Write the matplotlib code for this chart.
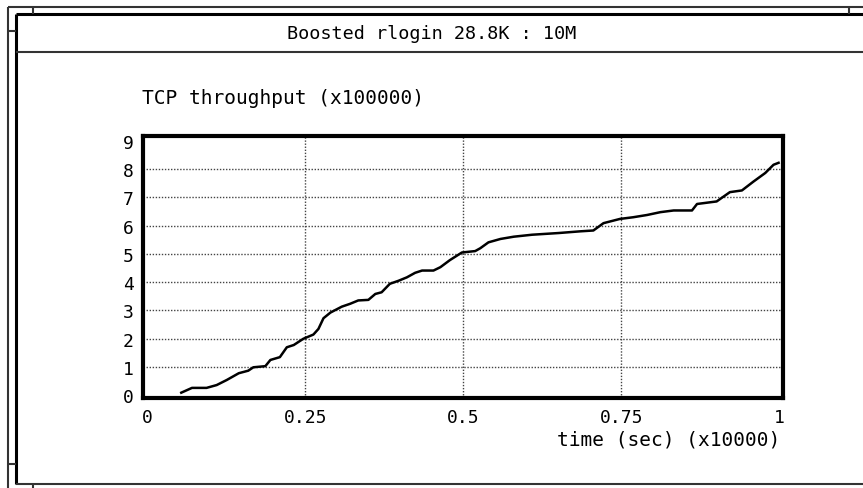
# Boosted rlogin 28.8K : 10M -- rendimiento TCP vs tiempo
import matplotlib
matplotlib.use("Agg")
import matplotlib.pyplot as plt
from matplotlib.lines import Line2D

# datos
tiempo = [0.054, 0.071, 0.094, 0.110, 0.126, 0.145, 0.160, 0.168, 0.187, 0.195,
          0.210, 0.221, 0.232, 0.247, 0.263, 0.271, 0.279, 0.290, 0.308, 0.321,
          0.334, 0.350, 0.361, 0.371, 0.384, 0.398, 0.411, 0.424, 0.435, 0.453,
          0.464, 0.479, 0.498, 0.519, 0.527, 0.540, 0.559, 0.580, 0.609, 0.651,
          0.685, 0.706, 0.722, 0.748, 0.769, 0.791, 0.812, 0.833, 0.862, 0.870,
          0.901, 0.922, 0.941, 0.959, 0.978, 0.991, 0.999]
throughput = [0.08, 0.25, 0.25, 0.35, 0.53, 0.77, 0.86, 0.98, 1.02, 1.24,
              1.34, 1.69, 1.77, 1.99, 2.14, 2.34, 2.72, 2.92, 3.13, 3.23,
              3.35, 3.37, 3.58, 3.64, 3.94, 4.05, 4.17, 4.33, 4.41, 4.41,
              4.53, 4.78, 5.05, 5.10, 5.20, 5.41, 5.53, 5.61, 5.68, 5.74,
              5.80, 5.83, 6.09, 6.24, 6.30, 6.38, 6.48, 6.54, 6.54, 6.77,
              6.86, 7.19, 7.25, 7.56, 7.87, 8.16, 8.23]

x_ticks = [0, 0.25, 0.5, 0.75, 1]
x_labels = ["0", "0.25", "0.5", "0.75", "1"]
y_ticks = list(range(10))
y_labels = [str(v) for v in y_ticks]

titulo = "Boosted rlogin 28.8K : 10M"
etiqueta_y = "TCP throughput (x100000)"
etiqueta_x = "time (sec) (x10000)"

fuente = "DejaVu Sans Mono"
tam = 13
tam_titulo = 13.3
tam_ejes = 14

W, H = 863, 489
fig = plt.figure(figsize=(W / 100, H / 100), dpi=100)


def px(x, y):
    return x / W, 1 - y / H


def linea(x0, y0, x1, y1, lw=1.5, color="#333333"):
    a = px(x0, y0)
    b = px(x1, y1)
    fig.add_artist(Line2D([a[0], b[0]], [a[1], b[1]], transform=fig.transFigure,
                          color=color, linewidth=lw, solid_capstyle="butt"))


# marco de la ventana
linea(8, 7.5, W, 7.5)
linea(8, 7.5, 8, H)
linea(16, 15, W, 15, lw=2.2, color="black")
linea(16, 15, 16, 485, lw=2.2, color="black")
linea(16, 53, W, 53)
linea(16, 485, W, 485)
linea(33, 7.5, 33, 15)
linea(849, 7.5, 849, 15)
linea(8, 32, 16, 32)
linea(8, 465, 16, 465)
linea(33, 485, 33, H)

fig.text(432 / W, 1 - 34 / H, titulo, ha="center", va="center",
         family=fuente, fontsize=tam_titulo)

# ejes
ax = fig.add_axes([0.1661, 0.1834, 0.7412, 0.537])
ax.plot(tiempo, throughput, color="black", linewidth=1.8)

ax.set_xlim(-0.006, 1.006)
ax.set_ylim(-0.12, 9.19)
for v in [0.25, 0.5, 0.75]:
    ax.axvline(v, color="#444444", linewidth=1, linestyle=(0, (1, 1.2)), zorder=0)
for v in range(1, 9):
    ax.axhline(v, color="#444444", linewidth=1, linestyle=(0, (1, 1.2)), zorder=0)

ax.set_xticks(x_ticks)
ax.set_xticklabels(x_labels, family=fuente, fontsize=tam)
ax.set_yticks(y_ticks)
ax.set_yticklabels(y_labels, family=fuente, fontsize=tam)
ax.tick_params(length=0, pad=7)
for s in ax.spines.values():
    s.set_linewidth(3)
    s.set_color("black")

fig.text(142 / W, 1 - 98 / H, etiqueta_y, ha="left", va="center",
         family=fuente, fontsize=tam_ejes)
fig.text(780 / W, 1 - 440 / H, etiqueta_x, ha="right", va="center",
         family=fuente, fontsize=tam_ejes)

fig.savefig("out.png", dpi=100)
